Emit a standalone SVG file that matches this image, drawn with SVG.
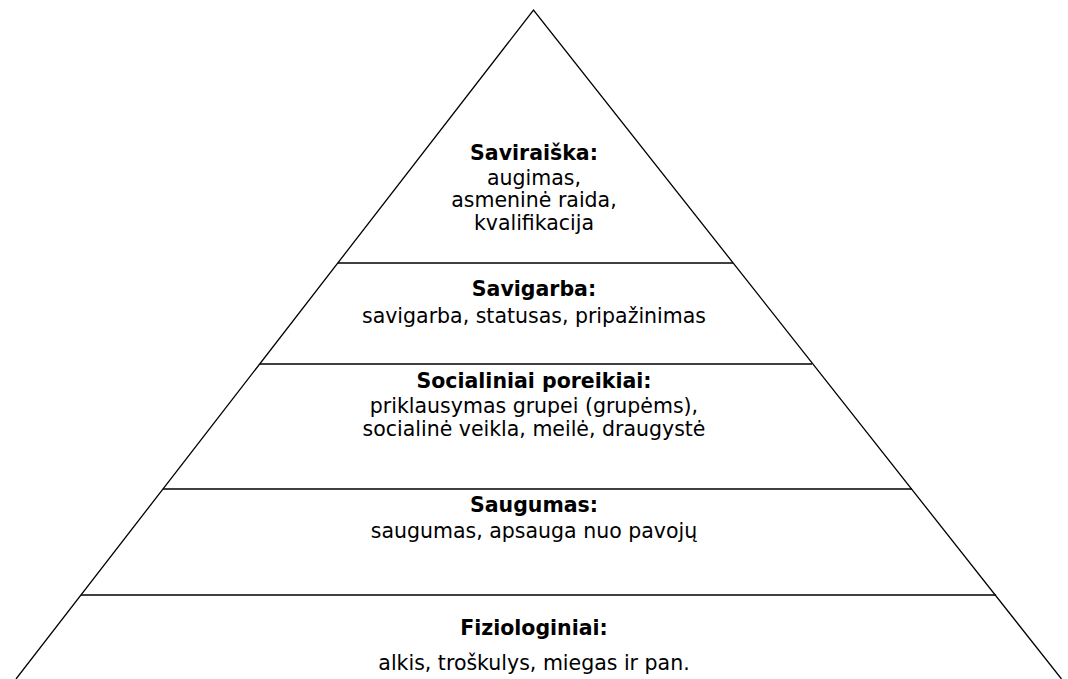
<svg xmlns="http://www.w3.org/2000/svg" width="1068" height="679" viewBox="0 0 1068 679">
<style>
.t{font-family:"DejaVu Sans","Liberation Sans",sans-serif;font-size:20.5px;fill:#000;text-anchor:middle}
.b{font-weight:bold}
.ln{stroke:#000;stroke-width:1.3;fill:none}
</style>
<rect width="1068" height="679" fill="#fff"/>
<g id="connectors">
<path class="ln" d="M16,679 L533.5,10 L1061.5,679"/>
<line class="ln" x1="338" y1="263" x2="733" y2="263"/>
<line class="ln" x1="260" y1="364" x2="812" y2="364"/>
<line class="ln" x1="163" y1="489" x2="912" y2="489"/>
<line class="ln" x1="81" y1="595" x2="996" y2="595"/>
</g>
<g id="saviraiska">
<text class="t b" x="534" y="160">Saviraiška:</text>
<text class="t" x="534" y="185">augimas,</text>
<text class="t" x="534" y="207">asmeninė raida,</text>
<text class="t" x="534" y="230">kvalifikacija</text>
</g>
<g id="savigarba">
<text class="t b" x="534" y="296">Savigarba:</text>
<text class="t" x="534" y="323">savigarba, statusas, pripažinimas</text>
</g>
<g id="socialiniai">
<text class="t b" x="534" y="388">Socialiniai poreikiai:</text>
<text class="t" x="534" y="413">priklausymas grupei (grupėms),</text>
<text class="t" x="534" y="436">socialinė veikla, meilė, draugystė</text>
</g>
<g id="saugumas">
<text class="t b" x="534" y="512">Saugumas:</text>
<text class="t" x="534" y="538">saugumas, apsauga nuo pavojų</text>
</g>
<g id="fiziologiniai">
<text class="t b" x="534" y="635">Fiziologiniai:</text>
<text class="t" x="534" y="670">alkis, troškulys, miegas ir pan.</text>
</g>
</svg>
